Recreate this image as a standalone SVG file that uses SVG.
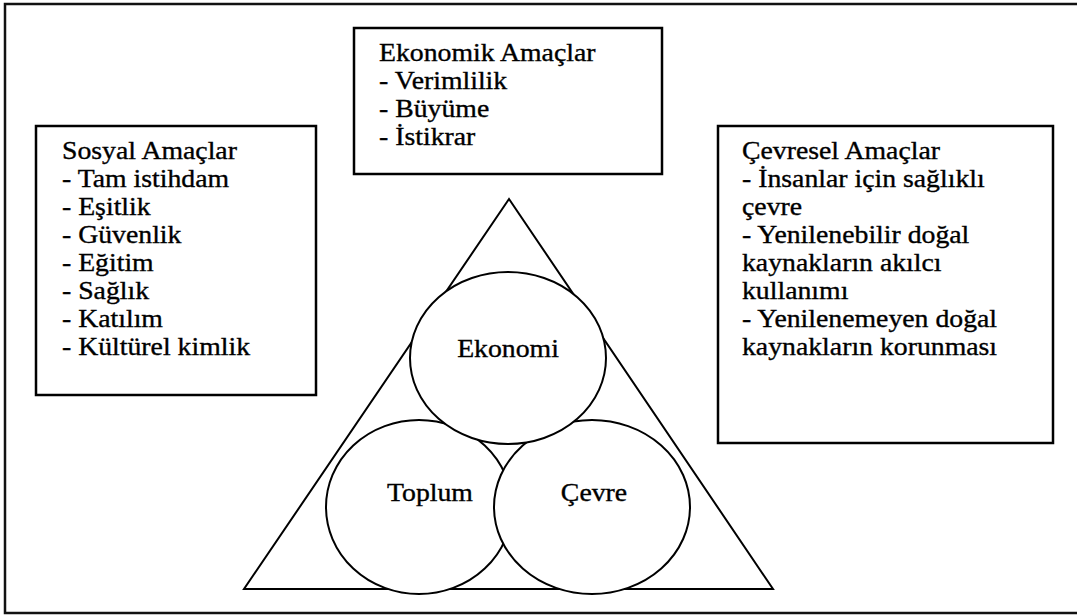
<svg xmlns="http://www.w3.org/2000/svg" width="1077" height="615" viewBox="0 0 1077 615">
<style>
.box{fill:#fff;stroke:#000;stroke-width:2.5}
.shape{fill:#fff;stroke:#000;stroke-width:2}
.t{font-family:"Liberation Serif","Times New Roman",serif;font-size:25px;fill:#000;stroke:#000;stroke-width:0.35}
.c{text-anchor:middle}
</style>
<rect x="0" y="0" width="1077" height="615" fill="#fff"/>
<rect id="frame" x="5" y="4" width="1100" height="609" fill="none" stroke="#111" stroke-width="2.5"/>
<g id="triangle">
<polygon class="shape" points="509,199 244,589 773,589" stroke-linejoin="miter"/>
</g>
<g id="connectors"></g>
<g id="toplum">
<ellipse class="shape" cx="419" cy="507" rx="93" ry="87"/>
<text class="t c" transform="translate(430,501) scale(1.11,1)" x="0" y="0">Toplum</text>
</g>
<g id="cevre">
<ellipse class="shape" cx="592" cy="507" rx="98" ry="87"/>
<text class="t c" transform="translate(594,501) scale(1.11,1)" x="0" y="0">Çevre</text>
</g>
<g id="ekonomi">
<ellipse class="shape" cx="508" cy="358" rx="98" ry="86"/>
<text class="t c" transform="translate(508,357) scale(1.11,1)" x="0" y="0">Ekonomi</text>
</g>
<g id="sosyal">
<rect class="box" x="36" y="126" width="280" height="269"/>
<text class="t" transform="translate(62,0) scale(1.11,1)">
<tspan x="0" y="159">Sosyal Amaçlar</tspan>
<tspan x="0" y="187">- Tam istihdam</tspan>
<tspan x="0" y="215">- Eşitlik</tspan>
<tspan x="0" y="243">- Güvenlik</tspan>
<tspan x="0" y="271">- Eğitim</tspan>
<tspan x="0" y="299">- Sağlık</tspan>
<tspan x="0" y="327">- Katılım</tspan>
<tspan x="0" y="355">- Kültürel kimlik</tspan>
</text>
</g>
<g id="ekonomik">
<rect class="box" x="354" y="28" width="308" height="146"/>
<text class="t" transform="translate(379,0) scale(1.11,1)">
<tspan x="0" y="61">Ekonomik Amaçlar</tspan>
<tspan x="0" y="89">- Verimlilik</tspan>
<tspan x="0" y="117">- Büyüme</tspan>
<tspan x="0" y="145">- İstikrar</tspan>
</text>
</g>
<g id="cevresel">
<rect class="box" x="718" y="126" width="335" height="317"/>
<text class="t" transform="translate(742,0) scale(1.11,1)">
<tspan x="0" y="159">Çevresel Amaçlar</tspan>
<tspan x="0" y="187">- İnsanlar için sağlıklı</tspan>
<tspan x="0" y="215">çevre</tspan>
<tspan x="0" y="243">- Yenilenebilir doğal</tspan>
<tspan x="0" y="271">kaynakların akılcı</tspan>
<tspan x="0" y="299">kullanımı</tspan>
<tspan x="0" y="327">- Yenilenemeyen doğal</tspan>
<tspan x="0" y="355">kaynakların korunması</tspan>
</text>
</g>
</svg>
